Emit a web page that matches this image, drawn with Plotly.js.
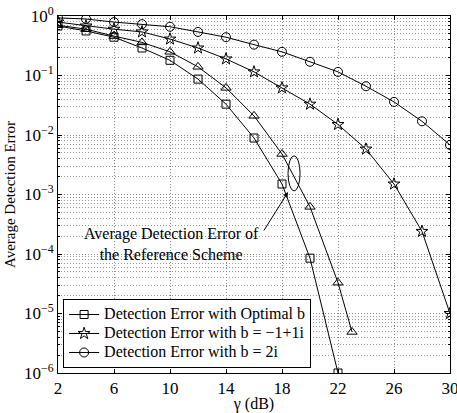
<!DOCTYPE html>
<html><head><meta charset="utf-8">
<script src="https://cdn.plot.ly/plotly-3.0.1.min.js"></script>
<style>html,body{margin:0;padding:0;background:#fff}#c{width:457px;height:413px}</style>
</head><body><div id="c"></div>
<script>
const gammaOpt = [2,4,6,8,10,12,14,16,18,20,22];
const errOpt = [0.68,0.56,0.44,0.29,0.18,0.087,0.033,0.0089,0.0015,8.5e-5,1.0e-6];
const gammaRef = [2,4,6,8,10,12,14,16,18,20,22,23];
const errRef = [0.70,0.60,0.46,0.36,0.25,0.14,0.062,0.021,0.0048,6.2e-4,3.3e-5,4.9e-6];
const gammaB1 = [2,4,6,8,10,12,14,16,18,20,22,24,26,28,30];
const errB1 = [0.79,0.68,0.60,0.54,0.41,0.29,0.19,0.115,0.062,0.033,0.015,0.0058,0.0015,2.4e-4,1.0e-5];
const gammaB2 = [2,4,6,8,10,12,14,16,18,20,22,24,26,28,30];
const errB2 = [0.93,0.89,0.79,0.73,0.66,0.54,0.44,0.33,0.25,0.17,0.115,0.066,0.036,0.017,0.0068];
const names = ["Detection Error with Optimal b","Detection Error with b = \u22121+1i","Detection Error with b = 2i"];
const xTicks = [2,6,10,14,18,22,26,30];
const yTickVals = [1,0.1,0.01,0.001,1e-4,1e-5,1e-6];
const yTickText = ["10<sup>0</sup>","10<sup>\u22121</sup>","10<sup>\u22122</sup>","10<sup>\u22123</sup>","10<sup>\u22124</sup>","10<sup>\u22125</sup>","10<sup>\u22126</sup>"];
const minorY = [];
for (let e=-6;e<0;e++){ for(let d=2;d<=9;d++){ minorY.push(d*Math.pow(10,e)); } }
const annText = "Average Detection Error of<br>the Reference Scheme";

const F = "Liberation Serif, Times New Roman, serif";
const big = s => '<span style="font-size:16px">' + s + '</span>';
const line = {color:'#000', width:1};
const traces = [
 {x:gammaOpt,y:errOpt,name:big(names[0]),mode:'lines+markers',line:line,marker:{symbol:'square-open',size:8,color:'#000',line:{width:1}}},
 {x:gammaB1,y:errB1,name:big(names[1]),mode:'lines+markers',line:line,marker:{symbol:'star-open',size:9,color:'#000',line:{width:1}}},
 {x:gammaB2,y:errB2,name:big(names[2]),mode:'lines+markers',line:line,marker:{symbol:'circle-open',size:9,color:'#000',line:{width:1}}},
 {x:gammaRef,y:errRef,name:'ref',showlegend:false,mode:'lines+markers',line:line,marker:{symbol:'triangle-up-open',size:9,color:'#000',line:{width:1}}}
];
const layout = {
 width:457,height:413,
 margin:{l:58,r:7,t:16,b:40},
 paper_bgcolor:'#fff',plot_bgcolor:'#fff',
 font:{family:F,size:16,color:'#000'},
 showlegend:true,
 legend:{x:0.013,y:0.014,xanchor:'left',yanchor:'bottom',bordercolor:'#000',borderwidth:1,bgcolor:'#fff',font:{family:F,size:11},tracegroupgap:0,itemwidth:30},
 xaxis:{range:[2,30],tickmode:'array',tickvals:xTicks,ticks:'inside',ticklen:4,tickcolor:'#000',ticklabeloverflow:'allow',
   showline:true,linecolor:'#000',linewidth:1,mirror:'ticks',zeroline:false,
   showgrid:true,gridcolor:'#888',griddash:'1px,2px',gridwidth:1,
   title:{text:'\u03b3 (dB)',font:{family:F,size:16},standoff:2},tickfont:{family:F,size:17}},
 yaxis:{type:'log',range:[-6,0],tickmode:'array',tickvals:yTickVals,ticktext:yTickText,ticks:'inside',ticklen:4,tickcolor:'#000',ticklabeloverflow:'allow',
   showline:true,linecolor:'#000',linewidth:1,mirror:'ticks',zeroline:false,
   showgrid:true,gridcolor:'#888',griddash:'1px,2px',gridwidth:1,
   minor:{tickmode:'array',tickvals:minorY,ticks:'inside',ticklen:2,tickcolor:'#000',showgrid:true,gridcolor:'#999',griddash:'1px,2px',gridwidth:1},
   title:{text:'Average Detection Error',font:{family:F,size:15},standoff:4},tickfont:{family:F,size:17}},
 shapes:[{type:'circle',xref:'x',yref:'y',x0:18.43,x1:19.29,y0:Math.pow(10,-2.94),y1:Math.pow(10,-2.35),line:{color:'#000',width:1}}],
 annotations:[
  {xref:'x',yref:'y',x:18.43,y:-2.96,ax:16.64,ay:-3.63,axref:'x',ayref:'y',text:'',showarrow:true,arrowhead:2,arrowsize:1,arrowwidth:1,arrowcolor:'#000'},
  {xref:'x',yref:'y',x:10.1,y:-3.83,text:annText,showarrow:false,font:{family:F,size:16},align:'center',bgcolor:'rgba(255,255,255,0)'}
 ]
};
Plotly.newPlot('c',traces,layout,{displayModeBar:false,staticPlot:true});
</script></body></html>
